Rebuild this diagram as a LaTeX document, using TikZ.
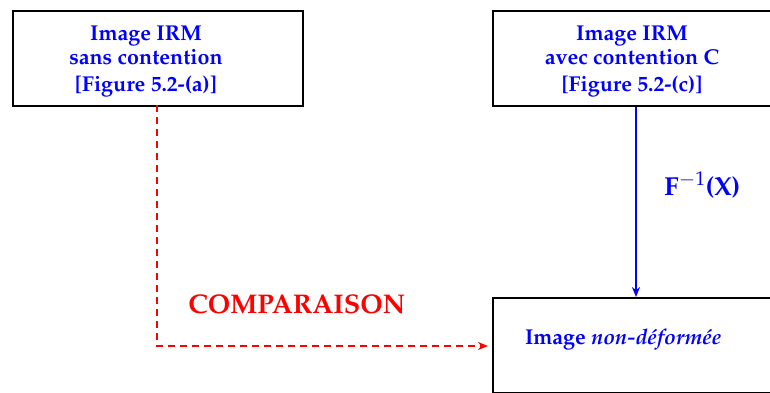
\documentclass[tikz,border=0pt]{standalone}
\usepackage[T1]{fontenc}
\usepackage{mathpazo}
\usepackage{tikz}
\usetikzlibrary{calc,arrows.meta}

\begin{document}
\begin{tikzpicture}[x=1pt,y=-1pt,line width=2pt]

% ---------- Parameters of the drawing ----------
\def\BoxWidth{290}      % Width of a box
\def\BoxHeight{95}      % Height of a box
\def\MapX{636}          % x of the deformation arrow
\def\CompareX{157}      % x of the comparison line
\def\LabelGap{24}       % Distance between arrow and its label

% ---------- Colours ----------
\colorlet{textcolor}{blue}
\colorlet{comparecolor}{red}

% ---------- Styles ----------
\tikzset{
  frame/.style={draw=black, minimum width=\BoxWidth, minimum height=\BoxHeight, inner sep=0pt},
  boxtext/.style={text=textcolor, font=\fontsize{21.5}{24}\selectfont\bfseries, align=center, inner sep=0pt},
  maptip/.style={-{Stealth[length=10pt,width=8pt]}},
}

% (0,0) coordinate = upper left corner of the picture
\useasboundingbox (0,0) rectangle (770,392);

% ---------- Boxes ----------
\node[frame, anchor=north west] (imgSans) at (12,10) {};
\node[frame, anchor=north west] (imgAvec) at (492,10) {};
\node[frame, anchor=north west] (imgNonDef) at (492,297) {};

% ---------- Texts in the boxes ----------
\node[boxtext] (txtSans) at ($ (imgSans.center) + (-12,3) $)
  {Image IRM\\ sans contention\\[3pt] [Figure 5.2-(a)]};
\node[boxtext] (txtAvec) at ($ (imgAvec.center) + (-6,3) $)
  {Image IRM\\ avec contention C\\[3pt] [Figure 5.2-(c)]};
\node[boxtext, anchor=west] (txtNonDef) at ($ (imgNonDef.west) + (32,-6) $)
  {Image \textit{non-d\'eform\'ee}};

% ---------- Deformation F^{-1} ----------
\coordinate (mapStart) at (imgAvec.south -| \MapX,0);
\coordinate (mapEnd) at (imgNonDef.north -| \MapX,0);
\draw[textcolor, maptip] (mapStart) -- (mapEnd);
\node[text=textcolor, font=\fontsize{26}{30}\selectfont, anchor=west] (lblMap)
  at ($ (mapStart)!0.41!(mapEnd) + (\LabelGap,0) $) {\textbf{F}$^{-1}$\textbf{(X)}};

% ---------- Comparison ----------
\coordinate (cmpStart) at (\CompareX,105);
\coordinate (cmpCorner) at (\CompareX,346);
\draw[comparecolor, dash pattern=on 7pt off 5pt, maptip, shorten >=4pt]
  (cmpStart) -- (cmpCorner) -- (cmpCorner -| imgNonDef.west);
\node[text=comparecolor, font=\fontsize{27}{30}\selectfont\bfseries, anchor=base west] (lblCompare)
  at (184,313) {COMPARAISON};

\end{tikzpicture}
\end{document}
